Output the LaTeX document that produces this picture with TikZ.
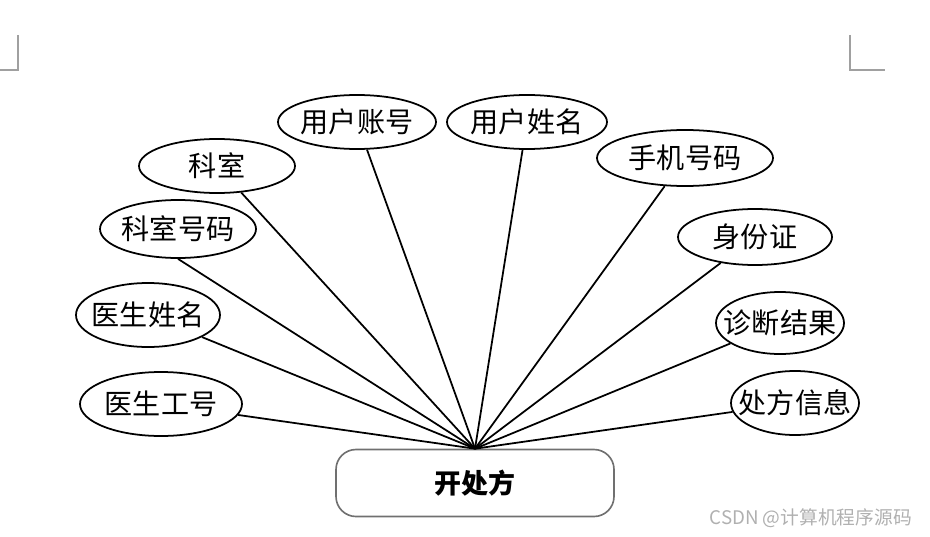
\documentclass[tikz,border=0pt]{standalone}
\usepackage{fontspec}
\usepackage{tikz}
\usetikzlibrary{shapes.geometric, positioning}
\newfontfamily\cjk{Noto Sans CJK SC}
\definecolor{edge}{HTML}{000000}
\definecolor{frame}{HTML}{707070}
\definecolor{cornergray}{HTML}{A0A0A0}
\definecolor{wmark}{HTML}{B0B0B0}

\begin{document}
\begin{tikzpicture}[x=0.03cm, y=-0.03cm,
  every node/.style={font=\cjk\fontsize{24}{28}\selectfont},
  attr/.style 2 args={ellipse, draw=edge, line width=1.5pt, inner xsep=-14pt, inner ysep=0pt,
    minimum width=#1*0.06cm, minimum height=#2*0.06cm},
  action/.style={rectangle, rounded corners=0.6cm, draw=frame, line width=1.4pt,
    minimum width=8.34cm, minimum height=2.01cm,
    font=\cjk\bfseries\fontsize{23}{26}\selectfont}]
  \useasboundingbox (0,0) rectangle (930,537);

  % page corner marks
  \draw[draw=cornergray, line width=1pt] (18,35) -- (18,70) -- (0,70);
  \draw[draw=cornergray, line width=1pt] (850,35) -- (850,70) -- (885,70);

  % entity
  \node[action] (rx) at (475,483) {开处方};

  % attributes
  \foreach \nm/\x/\y/\rx/\ry/\src/\lbl in {
    gh/161/404/81/32/gh/医生工号,
    xm/148/315/72/32/xm/医生姓名,
    ksh/178/229/78/29/ksh.south/科室号码,
    ks/217/166/78/27/ks/科室,
    zh/357/122/79/27/zh/用户账号,
    yhm/527/122/80/27/yhm/用户姓名,
    sj/685/158/88/28/sj/手机号码,
    sfz/755/237/77/28/sfz/身份证,
    zd/780/323/64/31/zd/诊断结果,
    cf/795/403/64/32/cf/处方信息
  }{
    \node[attr={\rx}{\ry}] (\nm) at (\x,\y) {\lbl};
    \draw[edge, line width=1.5pt] (\src) -- (rx.north);
  }

  % watermark
  \node[anchor=east, text=wmark, font=\cjk\fontsize{16}{18}\selectfont] (wm) at (916,518) {CSDN @计算机程序源码};
\end{tikzpicture}
\end{document}
